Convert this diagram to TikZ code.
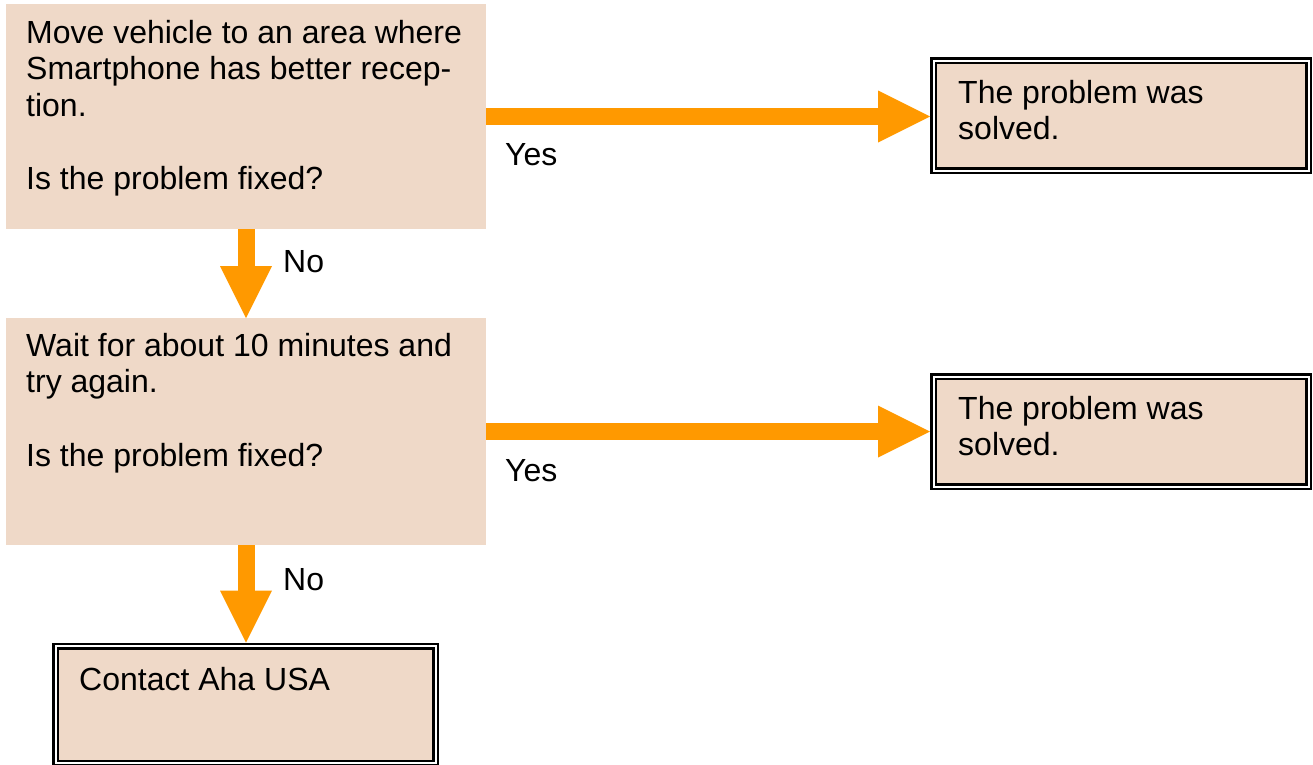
\documentclass[tikz,border=0pt]{standalone}
\usepackage{fontspec}
\setmainfont{Liberation Sans}
\usetikzlibrary{arrows.meta}
\definecolor{boxfill}{RGB}{239,217,200}
\definecolor{arroworange}{RGB}{255,153,0}
\begin{document}
\begin{tikzpicture}[x=1pt,y=1pt,
  qbox/.style={fill=boxfill, inner sep=0pt, outer sep=0pt, minimum width=480pt},
  endbox/.style={fill=boxfill, draw=black, line width=2.5pt, double=white, double distance=2pt, inner sep=0pt, outer sep=3.5pt},
  txt/.style={inner sep=0pt, anchor=north west, align=left, font=\fontsize{32}{36.6}\selectfont},
  lbl/.style={inner sep=0pt, anchor=base west, font=\fontsize{32}{36.6}\selectfont},
  flow/.style={draw=arroworange, line width=17pt, -{Triangle[length=52pt,width=52pt,line width=0pt]}}
]
\useasboundingbox (0,0) rectangle (1313,-764);

% question boxes
\node[qbox, minimum height=225pt] (q1) at (246,-116.5) {};
\node[qbox, minimum height=227pt] (q2) at (246,-431.5) {};

% end boxes
\node[endbox, minimum width=375pt, minimum height=110pt] (s1) at (1121,-115.5) {};
\node[endbox, minimum width=375pt, minimum height=110pt] (s2) at (1121,-431.5) {};
\node[endbox, minimum width=380pt, minimum height=117pt] (c) at (245.5,-704.5) {};

% texts
\node[txt] (t1) at (26,-12) {\rule{0pt}{31pt}Move vehicle to an area where\\Smartphone has better recep-\\tion.\\[36.6pt]Is the problem fixed?};
\node[txt] (t2) at (26,-325) {\rule{0pt}{31pt}Wait for about 10 minutes and\\try again.\\[36.6pt]Is the problem fixed?};
\node[txt] (ts1) at (958,-72) {\rule{0pt}{31pt}The problem was\\solved.};
\node[txt] (ts2) at (958,-388) {\rule{0pt}{31pt}The problem was\\solved.};
\node[txt] (tc) at (79,-659) {\rule{0pt}{31pt}Contact Aha USA};

% connectors
\draw[flow] (q1.east) -- (q1.east -| s1.west);
\draw[flow] (q2.east) -- (q2.east -| s2.west);
\draw[flow] (q1.south) -- (q2.north);
\draw[flow] (q2.south) -- (q2.south |- c.north);

% labels
\node[lbl] (yes1) at (505,-165) {Yes};
\node[lbl] (yes2) at (505,-481) {Yes};
\node[lbl] (no1) at (283,-272) {No};
\node[lbl] (no2) at (283,-590) {No};
\end{tikzpicture}
\end{document}
